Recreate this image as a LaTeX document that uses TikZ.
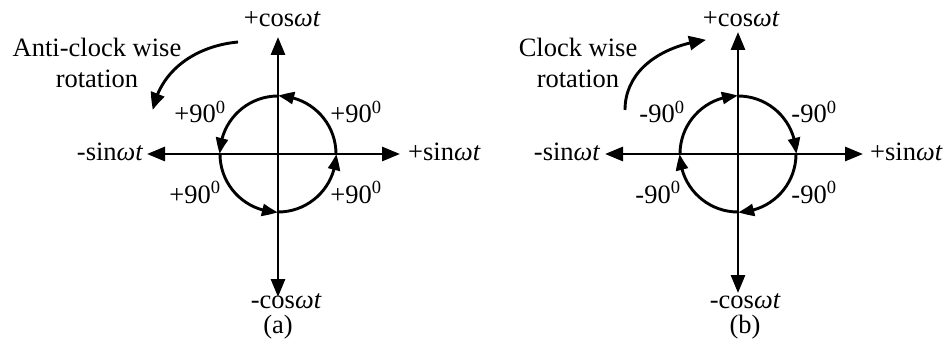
\documentclass[tikz,border=0pt]{standalone}
\usepackage{fontspec}
\setmainfont{Liberation Serif}
\usetikzlibrary{arrows.meta,bending}
\begin{document}
\begin{tikzpicture}[x=1pt,y=1pt,
  axis/.style={line width=2.9pt,{Triangle[length=18pt,width=14pt]}-{Triangle[length=18pt,width=14pt]}},
  rot/.style={line width=2.9pt,-{Triangle[bend,length=16pt,width=12pt]}},
  big/.style={line width=2.9pt,-{Triangle[bend,length=17pt,width=14pt]}},
  lbl/.style={inner sep=0pt,anchor=base,font=\fontsize{26.5}{30}\selectfont}
]
\useasboundingbox (0,0) rectangle (947,346);
% ---------- panel (a)
\coordinate (Oa) at (278,192);
\coordinate (aN) at (278,309);
\coordinate (aS) at (278,49);
\coordinate (aW) at (147,192);
\coordinate (aE) at (400,192);
\draw[axis] (aS) -- (aN);
\draw[axis] (aW) -- (aE);
\draw[rot] ([xshift=58pt]Oa) arc[start angle=0,end angle=90,radius=58];
\draw[rot] ([yshift=58pt]Oa) arc[start angle=90,end angle=180,radius=58];
\draw[rot] ([xshift=-58pt]Oa) arc[start angle=180,end angle=270,radius=58];
\draw[rot] ([yshift=-58pt]Oa) arc[start angle=270,end angle=360,radius=58];
\coordinate (caS) at (238,304);
\coordinate (caE) at (153,236);
\draw[big] (caS) .. controls (195,300) and (160,275) .. (caE);
\node[lbl] (acosP) at (282,319) {+cos{\itshape ωt}};
\node[lbl] (acosN) at (286,38) {-cos{\itshape ωt}};
\node[lbl,anchor=base east] (asinN) at (143,186) {-sin{\itshape ωt}};
\node[lbl,anchor=base west] (asinP) at (408,186) {+sin{\itshape ωt}};
\node[lbl] (at1) at (97,289) {Anti-clock wise};
\node[lbl] (at2) at (97,258) {rotation};
\node[lbl] (aul) at (200,223) {+90\textsuperscript{0}};
\node[lbl] (aur) at (356,223) {+90\textsuperscript{0}};
\node[lbl] (all) at (195,143) {+90\textsuperscript{0}};
\node[lbl] (alr) at (356,143) {+90\textsuperscript{0}};
\node[lbl] (acap) at (278,13) {(a)};
% ---------- panel (b)
\coordinate (Ob) at (738,192);
\coordinate (bN) at (738,314);
\coordinate (bS) at (738,53);
\coordinate (bW) at (605,192);
\coordinate (bE) at (863,192);
\draw[axis] (bS) -- (bN);
\draw[axis] (bW) -- (bE);
\draw[rot] ([xshift=-58pt]Ob) arc[start angle=180,end angle=90,radius=58];
\draw[rot] ([yshift=58pt]Ob) arc[start angle=90,end angle=0,radius=58];
\draw[rot] ([xshift=58pt]Ob) arc[start angle=360,end angle=270,radius=58];
\draw[rot] ([yshift=-58pt]Ob) arc[start angle=270,end angle=180,radius=58];
\coordinate (cbS) at (625,236);
\coordinate (cbE) at (706,306);
\draw[big] (cbS) .. controls (625,275) and (660,300) .. (cbE);
\node[lbl] (bcosP) at (741,319) {+cos{\itshape ωt}};
\node[lbl] (bcosN) at (745,38) {-cos{\itshape ωt}};
\node[lbl,anchor=base east] (bsinN) at (600,186) {-sin{\itshape ωt}};
\node[lbl,anchor=base west] (bsinP) at (870,186) {+sin{\itshape ωt}};
\node[lbl] (bt1) at (578,289) {Clock wise};
\node[lbl] (bt2) at (578,258) {rotation};
\node[lbl] (bul) at (662,223) {-90\textsuperscript{0}};
\node[lbl] (bur) at (814,223) {-90\textsuperscript{0}};
\node[lbl] (bll) at (658,143) {-90\textsuperscript{0}};
\node[lbl] (blr) at (814,143) {-90\textsuperscript{0}};
\node[lbl] (bcap) at (745,13) {(b)};
\end{tikzpicture}
\end{document}
